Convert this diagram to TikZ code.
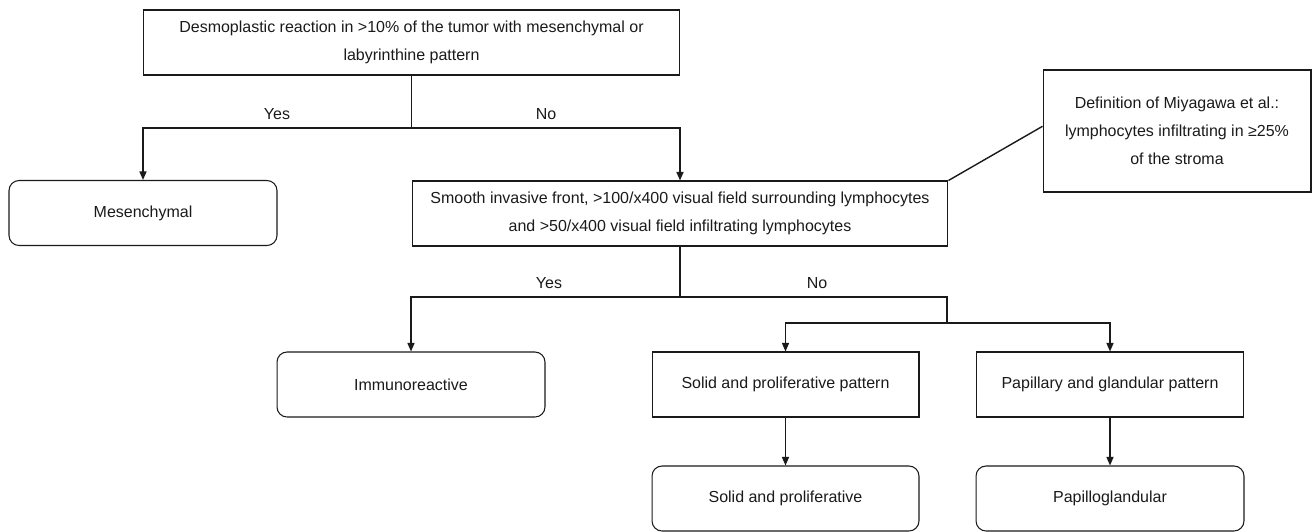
\documentclass[tikz,border=0pt]{standalone}
\usepackage{fontspec}
\setmainfont{Liberation Sans}
\usetikzlibrary{arrows.meta}
\definecolor{ink}{HTML}{1A1A1A}

\begin{document}
\begin{tikzpicture}[x=0.02cm,y=-0.02cm,font=\fontsize{9.1}{15.9}\selectfont,text=ink,
  box/.style={draw=ink,line width=0.6pt,align=center,inner sep=0pt,minimum height=1.3cm},
  wide/.style={box,minimum width=10.72cm},
  pat/.style={box,minimum width=5.34cm},
  res/.style={box,rounded corners=0.2cm,minimum width=5.36cm},
  link/.style={draw=ink,line width=0.8pt},
  arr/.style={link,-{Triangle[length=1.7mm,width=1.4mm]}}]
  \useasboundingbox (0,0) rectangle (1312,531);

  \node[wide] (desmo) at (411.5,42.5)
    {Desmoplastic reaction in >10\% of the tumor with mesenchymal or\\labyrinthine pattern};
  \node[res] (mesen) at (143,213) {Mesenchymal};
  \node[wide] (smooth) at (680,213.5)
    {Smooth invasive front, >100/x400 visual field surrounding lymphocytes\\and >50/x400 visual field infiltrating lymphocytes};
  \node[box,minimum width=5.36cm,minimum height=2.44cm] (miya) at (1177,131)
    {Definition of Miyagawa et al.:\\lymphocytes infiltrating in ≥25\%\\of the stroma};
  \node[res] (immuno) at (411,384.5) {Immunoreactive};
  \node[pat] (solidpat) at (785.5,384.5) {Solid and proliferative pattern};
  \node[pat] (papipat) at (1110,384.5) {Papillary and glandular pattern};
  \node[res,minimum width=5.34cm] (solid) at (785.5,498.5) {Solid and proliferative};
  \node[res] (papillo) at (1110,498.5) {Papilloglandular};

  \node (yesA) at (277,114) {Yes};
  \node (noA) at (546,114) {No};
  \node (yesB) at (549,283) {Yes};
  \node (noB) at (817,283) {No};

  \coordinate (splitA) at (411.5,128);
  \coordinate (splitB) at (680,297);
  \coordinate (splitC) at (947,323);

  \draw[link] (desmo.south) -- (splitA);
  \draw[arr] (splitA) -| (mesen.north);
  \draw[arr] (splitA) -| (smooth.north);
  \draw[link] (smooth.north east) -- (miya.178);
  \draw[link] (smooth.south) -- (splitB);
  \draw[arr] (splitB) -| (immuno.north);
  \draw[link] (splitB) -| (splitC);
  \draw[arr] (splitC) -| (solidpat.north);
  \draw[arr] (splitC) -| (papipat.north);
  \draw[arr] (solidpat) -- (solid);
  \draw[arr] (papipat) -- (papillo);
\end{tikzpicture}
\end{document}
